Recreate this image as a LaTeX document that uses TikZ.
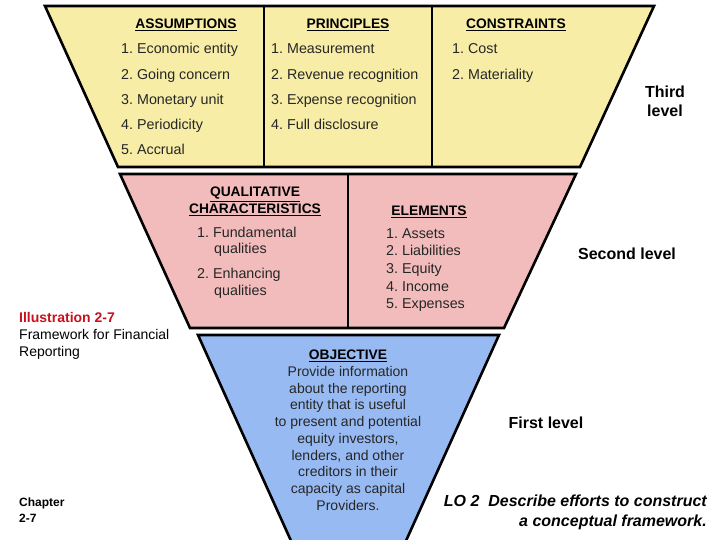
\documentclass[tikz,border=0pt]{standalone}
\usepackage{fontspec}
\setmainfont{Liberation Sans}
\definecolor{yel}{RGB}{247,237,166}
\definecolor{pnk}{RGB}{242,188,188}
\definecolor{blu}{RGB}{152,186,242}
\definecolor{ired}{RGB}{200,16,30}
\begin{document}
\begin{tikzpicture}[x=1pt,y=-1pt,
  outl/.style={draw=black,line width=2.6pt,line join=miter},
  divider/.style={draw=black,line width=2.2pt},
  txt/.style={font=\fontsize{14.3}{16}\selectfont,anchor=base west,inner sep=0pt,text=black!85,yshift=-5pt},
  hd/.style={font=\fontsize{13.8}{17}\selectfont\bfseries,inner sep=0pt,align=center,yshift=-1.5pt},
  lvl/.style={font=\fontsize{16}{19}\selectfont\bfseries,inner sep=0pt,align=center},
  obj/.style={font=\fontsize{14}{16.75}\selectfont,inner sep=0pt,align=center,text=black!85}]
\useasboundingbox (0,0) rectangle (720,540);
% third level
\fill[yel] (45,6) -- (654,6) -- (580,167) -- (118,167) -- cycle;
\draw[outl] (45,6) -- (654,6) -- (580,167) -- (118,167) -- cycle;
\draw[divider] (264,6) -- (264,167);
\draw[divider] (432,6) -- (432,167);
% second level
\fill[pnk] (120,174) -- (576,174) -- (504,328) -- (190,328) -- cycle;
\draw[outl] (120,174) -- (576,174) -- (504,328) -- (190,328) -- cycle;
\draw[divider] (348,174) -- (348,328);
% first level
\begin{scope}
\clip (0,0) rectangle (720,540);
\fill[blu] (198,335) -- (499,335) -- (348.5,668) -- cycle;
\draw[outl] (198,335) -- (499,335) -- (348.5,668) -- cycle;
\end{scope}
% third level text
\node[hd] (ass) at (186,23) {\underline{ASSUMPTIONS}};
\node[txt] (a1) at (121,49) {1.\ Economic entity};
\node[txt] (a2) at (121,75) {2.\ Going concern};
\node[txt] (a3) at (121,100) {3.\ Monetary unit};
\node[txt] (a4) at (121,125) {4.\ Periodicity};
\node[txt] (a5) at (121,150) {5.\ Accrual};
\node[hd] (pri) at (348,23) {\underline{PRINCIPLES}};
\node[txt] (p1) at (271,49) {1.\ Measurement};
\node[txt] (p2) at (271,75) {2.\ Revenue recognition};
\node[txt] (p3) at (271,100) {3.\ Expense recognition};
\node[txt] (p4) at (271,125) {4.\ Full disclosure};
\node[hd] (con) at (516,23) {\underline{CONSTRAINTS}};
\node[txt] (c1) at (452,49) {1.\ Cost};
\node[txt] (c2) at (452,75) {2.\ Materiality};
\node[lvl] (third) at (665,101) {Third\\level};
% second level text
\node[hd] (qc) at (255,200) {\underline{QUALITATIVE}\\[0pt]\underline{CHARACTERISTICS}};
\node[txt] (q1) at (197,232) {1.\ Fundamental};
\node[txt] (q1b) at (214,249) {qualities};
\node[txt] (q2) at (197,273) {2.\ Enhancing};
\node[txt] (q2b) at (214,290) {qualities};
\node[hd] (el) at (429,210) {\underline{ELEMENTS}};
\node[txt] (e1) at (386,233) {1.\ Assets};
\node[txt] (e2) at (386,250) {2.\ Liabilities};
\node[txt] (e3) at (386,268) {3.\ Equity};
\node[txt] (e4) at (386,286) {4.\ Income};
\node[txt] (e5) at (386,303) {5.\ Expenses};
\node[lvl] (second) at (627,254) {Second level};
% first level text
\node[hd] (ob) at (348,354) {\underline{OBJECTIVE}};
\node[obj,anchor=north] (obt) at (348,366) {Provide information\\about the reporting\\entity that is useful\\to present and potential\\equity investors,\\lenders, and other\\creditors in their\\capacity as capital\\Providers.};
\node[lvl] (first) at (546,423) {First level};
% left captions
\node[anchor=north west,inner sep=0pt,align=left,font=\fontsize{14}{17}\selectfont] (ill) at (19,312) {\textcolor{ired}{\bfseries Illustration 2-7}\\Framework for Financial\\Reporting};
\node[anchor=north west,inner sep=0pt,align=left,font=\fontsize{12}{16}\selectfont\bfseries] (chap) at (19,498) {Chapter\\2-7};
% LO
\node[anchor=north east,inner sep=0pt,align=right,font=\fontsize{16}{20}\selectfont\bfseries\itshape] (lo) at (707,495) {LO 2\ \ Describe efforts to construct\\a conceptual framework.};
\end{tikzpicture}
\end{document}
